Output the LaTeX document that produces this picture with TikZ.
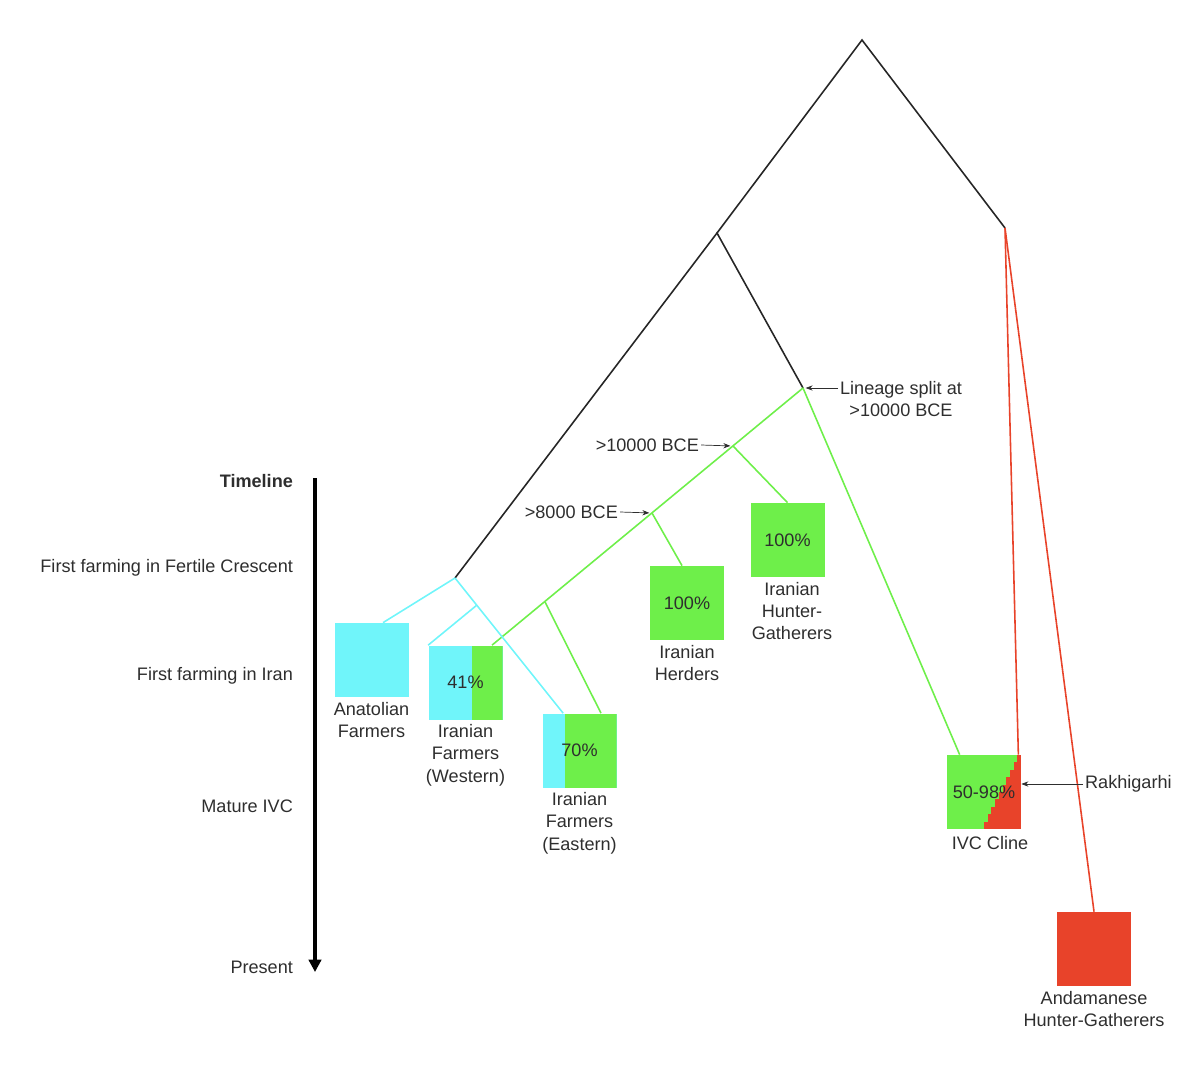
\documentclass[tikz,border=0pt]{standalone}
\usepackage{fontspec}
\setmainfont{Liberation Sans}
\usetikzlibrary{arrows.meta,positioning}
\definecolor{cyanbox}{HTML}{70F5FA}
\definecolor{greenbox}{HTML}{6EEF4A}
\definecolor{redbox}{HTML}{E8432A}
\definecolor{txt}{HTML}{2E2E2E}

\begin{document}
\begin{tikzpicture}[
  x=0.2mm, y=-0.2mm, >={Stealth[length=4pt,width=3pt]},
  every node/.style={font=\fontsize{10.3}{12.6}\selectfont, text=txt},
  pop/.style={minimum width=14.8mm, minimum height=14.8mm, inner sep=0pt},
  split/.style={pop, fill=cyanbox, path picture={\fill[greenbox] ([xshift=#1]path picture bounding box.south west) rectangle (path picture bounding box.north east);}},
  stairs/.style={pop, fill=greenbox, path picture={\foreach \i in {0,...,9} \fill[redbox] ([xshift={7.4mm+0.74mm*\i}, yshift={1.48mm*\i}]path picture bounding box.south west) rectangle ([yshift={1.48mm*(\i+1)}]path picture bounding box.south east);}},
  lbl/.style={align=center, inner sep=1pt},
  branch/.style={line width=0.9pt},
  note/.style={->, line width=0.4pt, draw=txt, shorten >=1.5pt},
  tick/.style={anchor=east, inner sep=1pt},
]
\useasboundingbox (0,0) rectangle (1200,1064);

% timeline
\coordinate (t0) at (315,478);
\coordinate (t1) at (315,972);
\draw[line width=1.8pt, -{Triangle[length=7pt,width=7pt]}] (t0) -- (t1);
\node[tick] (tl) at (295,481) {\bfseries Timeline};
\node[tick] (tlfert) at (295,568) {First farming in Fertile Crescent};
\node[tick] (tliran) at (295,676) {First farming in Iran};
\node[tick] (tlivc) at (295,806) {Mature IVC};
\node[tick] (tlnow) at (295,967) {Present};

% populations
\node[pop, fill=cyanbox] (anat) at (371.5,660) {};
\node[split=8.6mm] (west) at (465.5,682.5) {41\%};
\node[split=4.4mm] (east) at (579.5,750.5) {70\%};
\node[pop, fill=greenbox] (herd) at (687,603) {100\%};
\node[pop, fill=greenbox] (ihg) at (787.5,540) {100\%};
\node[stairs] (ivc) at (984,792) {50-98\%};
\node[pop, fill=redbox] (anda) at (1094,949) {};

\node[lbl, below=1.5pt of anat] (anatl) {Anatolian\\Farmers};
\node[lbl, below=1.5pt of west] (westl) {Iranian\\Farmers\\(Western)};
\node[lbl, below=1.5pt of east] (eastl) {Iranian\\Farmers\\(Eastern)};
\node[lbl, below=1.5pt of herd] (herdl) {Iranian\\Herders};
\node[lbl, below=1.5pt of ihg, xshift=0.9mm] (ihgl) {Iranian\\Hunter-\\Gatherers};
\node[lbl, below=3pt of ivc, xshift=1.2mm] (ivcl) {IVC Cline};
\node[lbl, below=1.5pt of anda] (andal) {Andamanese\\Hunter-Gatherers};

% tree
\coordinate (root) at (862,40);
\coordinate (wsplit) at (717,233);
\coordinate (asplit) at (1005,228);
\coordinate (isplit) at (803,388);
\coordinate (csplit) at (455,578);
\coordinate (cwest) at (477,605);
\coordinate (g1) at (733,446);
\coordinate (g2) at (652,513);
\coordinate (g3) at (545,602);

\draw[branch, black!85] (wsplit) -- (root) -- (asplit);
\draw[branch, black!85] (csplit) -- (wsplit) -- (isplit);
\draw[branch, greenbox] (isplit) -- ([xshift=5.3mm]west.north);
\draw[branch, greenbox] (g1) -- (ihg.north);
\draw[branch, greenbox] (g2) -- ([xshift=-1mm]herd.north);
\draw[branch, greenbox] (g3) -- ([xshift=4.3mm]east.north);
\draw[branch, greenbox] (isplit) -- ([xshift=2.6mm]ivc.north west);
\draw[branch, cyanbox] (csplit) -- ([xshift=2.3mm]anat.north);
\draw[branch, cyanbox] (csplit) -- ([xshift=4.2mm]east.north west);
\draw[branch, cyanbox] (cwest) -- (west.north west);
\draw[branch, redbox] (asplit) -- ([xshift=-0.6mm]ivc.north east);
\draw[branch, redbox] (asplit) -- (anda.north);

% notes
\node[lbl, anchor=west] (lsplit) at (838,399) {Lineage split at\\>10000 BCE};
\draw[note] (lsplit.west |- isplit) -- (isplit);
\node[anchor=east, inner sep=1pt] (bce10) at (701,445) {>10000 BCE};
\draw[note] (bce10.east) -- (g1);
\node[anchor=east, inner sep=1pt] (bce8) at (620,512) {>8000 BCE};
\draw[note] (bce8.east) -- (g2);
\node[anchor=west, inner sep=1pt] (rakh) at (1083,784) {Rakhigarhi};
\draw[note, shorten >=0pt] (rakh.west) -- (rakh.west -| ivc.east);
\end{tikzpicture}
\end{document}
